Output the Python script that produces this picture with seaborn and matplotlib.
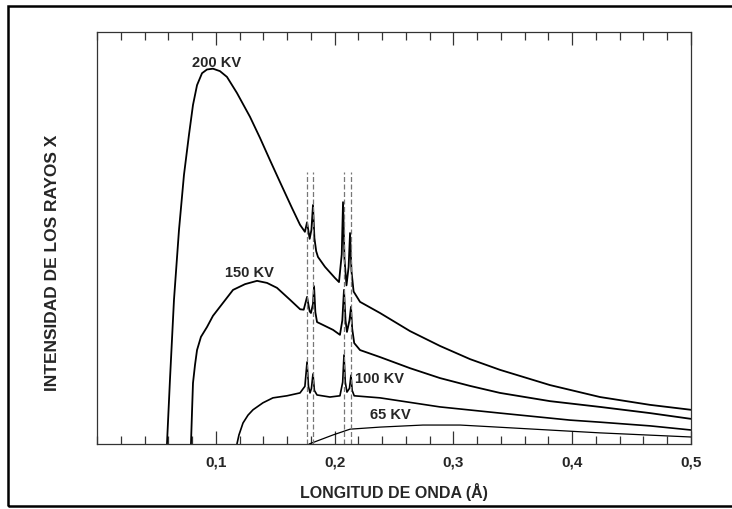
import numpy as np
import pandas as pd
import seaborn as sns
import matplotlib.pyplot as plt
from matplotlib.ticker import MultipleLocator
from matplotlib.patches import Rectangle

# wavelength (Angstrom) / relative intensity
wl_200 = [0.0589, 0.0614, 0.0648, 0.0690, 0.0732, 0.0774, 0.0808, 0.0842, 0.0884, 0.0926,
          0.0976, 0.1035, 0.1094, 0.1178, 0.1288, 0.1372, 0.1456, 0.1540, 0.1641, 0.1709,
          0.1750, 0.1768, 0.1790, 0.1805, 0.1818, 0.1830, 0.1845, 0.1860, 0.1919, 0.2003,
          0.2037, 0.2060, 0.2071, 0.2083, 0.2100, 0.2118, 0.2130, 0.2142, 0.2160, 0.2214,
          0.2382, 0.2635, 0.2887, 0.3140, 0.3392, 0.3813, 0.4234, 0.4655, 0.5]
int_200 = [0.000, 0.155, 0.350, 0.519, 0.653, 0.750, 0.823, 0.871, 0.900, 0.909,
           0.911, 0.905, 0.891, 0.852, 0.794, 0.743, 0.689, 0.636, 0.573, 0.532,
           0.515, 0.538, 0.498, 0.520, 0.580, 0.500, 0.468, 0.454, 0.430, 0.403,
           0.393, 0.460, 0.587, 0.450, 0.385, 0.430, 0.512, 0.420, 0.370, 0.345,
           0.318, 0.274, 0.238, 0.206, 0.180, 0.143, 0.114, 0.095, 0.083]

wl_150 = [0.0791, 0.0800, 0.0808, 0.0825, 0.0842, 0.0875, 0.0926, 0.0976, 0.1035, 0.1145,
          0.1246, 0.1347, 0.1431, 0.1515, 0.1625, 0.1710, 0.1740, 0.1768, 0.1790, 0.1801,
          0.1818, 0.1827, 0.1838, 0.1852, 0.1902, 0.1987, 0.2045, 0.2065, 0.2079, 0.2092,
          0.2104, 0.2125, 0.2138, 0.2148, 0.2165, 0.2214, 0.2382, 0.2635, 0.2887, 0.3140,
          0.3392, 0.3813, 0.4234, 0.4655, 0.5]
int_150 = [0.000, 0.080, 0.148, 0.192, 0.228, 0.260, 0.284, 0.311, 0.333, 0.374,
           0.388, 0.396, 0.391, 0.379, 0.350, 0.327, 0.326, 0.357, 0.322, 0.318,
           0.340, 0.383, 0.320, 0.296, 0.289, 0.277, 0.265, 0.300, 0.374, 0.300,
           0.272, 0.300, 0.333, 0.280, 0.245, 0.228, 0.211, 0.184, 0.160, 0.141,
           0.124, 0.104, 0.090, 0.075, 0.061]

wl_100 = [0.1178, 0.1195, 0.1229, 0.1271, 0.1313, 0.1397, 0.1481, 0.1599, 0.1709, 0.1750,
          0.1768, 0.1780, 0.1793, 0.1805, 0.1818, 0.1830, 0.1852, 0.1961, 0.2045, 0.2068,
          0.2079, 0.2090, 0.2104, 0.2125, 0.2138, 0.2148, 0.2165, 0.2382, 0.2887, 0.3392,
          0.3981, 0.4234, 0.4655, 0.5]
int_100 = [0.000, 0.022, 0.051, 0.070, 0.083, 0.100, 0.112, 0.117, 0.124, 0.140,
           0.199, 0.140, 0.124, 0.135, 0.170, 0.130, 0.119, 0.114, 0.117, 0.150,
           0.216, 0.150, 0.126, 0.135, 0.167, 0.130, 0.117, 0.112, 0.090, 0.075,
           0.058, 0.053, 0.044, 0.034]

wl_65 = [0.1785, 0.1877, 0.1987, 0.2130, 0.2382, 0.2744, 0.3056, 0.3308, 0.4234, 0.5]
int_65 = [0.000, 0.010, 0.022, 0.036, 0.041, 0.046, 0.046, 0.042, 0.027, 0.017]

# characteristic lines (dashed markers)
lines_k = [0.177, 0.182, 0.208, 0.2135]

curve_labels = ["200 KV", "150 KV", "100 KV", "65 KV"]
label_pos = [(0.101, 0.925), (0.128, 0.415), (0.238, 0.158), (0.2466, 0.070)]

xtick_vals = [0.1, 0.2, 0.3, 0.4, 0.5]
xtick_text = ["0,1", "0,2", "0,3", "0,4", "0,5"]

sns.set_style("ticks")
plt.rcParams['font.family'] = ['Liberation Sans', 'DejaVu Sans']

fig = plt.figure(figsize=(7.32, 5.09), dpi=100)
ax = fig.add_axes([97 / 732, 65 / 509, 594 / 732, 412 / 509])

curves = [(wl_200, int_200, 1.3), (wl_150, int_150, 1.3),
          (wl_100, int_100, 1.2), (wl_65, int_65, 0.9)]
for wl, inten, lw in curves:
    sns.lineplot(x=wl, y=inten, ax=ax, color="black", lw=lw,
                 sort=False, estimator=None)

ax.vlines(lines_k, 0, 0.66, colors="#777777", linestyles=(0, (4, 2)), lw=0.9)

for txt, (x, y) in zip(curve_labels, label_pos):
    ax.text(x, y, txt, ha="center", va="center", fontsize=10.5, fontweight="bold")

ax.set_xlim(0, 0.5)
ax.set_ylim(0, 1)
ax.set_yticks([])
ax.set_xticks(xtick_vals)
ax.set_xticklabels(xtick_text, fontsize=11, fontweight="bold")
ax.xaxis.set_minor_locator(MultipleLocator(0.02))
ax.tick_params(axis="x", which="both", direction="in", top=True, bottom=True,
               color="#333333", width=0.9, pad=8)
ax.tick_params(axis="x", which="major", length=9.5)
ax.tick_params(axis="x", which="minor", length=6)
for sp in ax.spines.values():
    sp.set_linewidth(0.9)
    sp.set_color("#333333")

ax.set_xlabel("LONGITUD DE ONDA (Å)", fontsize=11.5, fontweight="bold")
ax.xaxis.set_label_coords(0.5, -0.095)
ax.set_ylabel("INTENSIDAD DE LOS RAYOS X", fontsize=12.5, fontweight="bold")
ax.yaxis.set_label_coords(-0.062, 0.439)

# outer frame
fig.patches.append(Rectangle((8 / 732, 3 / 509), 740 / 732, 500 / 509,
                             transform=fig.transFigure, fill=False,
                             edgecolor="black", lw=1.8))

fig.savefig("out.png", dpi=100)
